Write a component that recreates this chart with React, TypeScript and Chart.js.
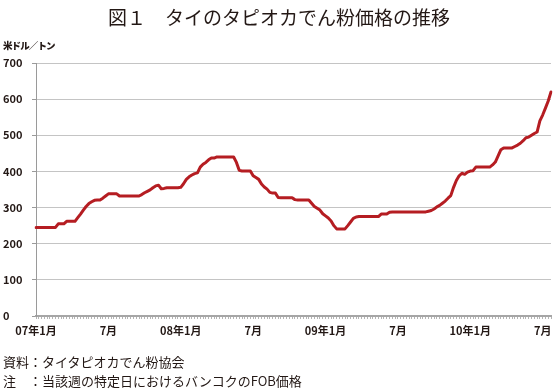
import React, { useEffect, useRef } from "react";
import { Chart, registerables } from "chart.js";

Chart.register(...registerables);

// Half-year tick labels and the week index where each sits
const tickLabels = ["07年1月", "7月", "08年1月", "7月", "09年1月", "7月", "10年1月", "7月"];
const tickWeeks = [0, 26, 52, 78, 104, 130, 156, 182];

// Weekly FOB price of Thai tapioca starch (US$/t), from Jan 2007
const prices = [
  245, 245, 245, 245, 245, 245, 245, 245, 255, 255,
  255, 262, 262, 262, 262, 272, 282, 293, 303, 311,
  316, 320, 321, 321, 326, 332, 338, 338, 338, 338,
  332, 332, 332, 332, 332, 332, 332, 332, 336, 341,
  345, 349, 355, 360, 362, 352, 353, 355, 355, 355,
  355, 355, 356, 366, 378, 385, 390, 394, 396, 412,
  420, 425, 432, 437, 437, 440, 440, 440, 440, 440,
  440, 440, 425, 403, 401, 401, 401, 401, 388, 383,
  378, 365, 357, 351, 342, 340, 340, 328, 327, 327,
  327, 327, 327, 322, 321, 321, 321, 321, 321, 312,
  303, 298, 293, 283, 277, 271, 263, 250, 241, 241,
  241, 241, 250, 260, 270, 274, 275, 275, 275, 275,
  275, 275, 275, 275, 282, 282, 282, 287, 288, 288,
  288, 288, 288, 288, 288, 288, 288, 288, 288, 288,
  288, 290, 292, 296, 302, 306, 312, 318, 326, 333,
  356, 375, 388, 395, 392, 398, 401, 402, 412, 412,
  412, 412, 412, 412, 418, 426, 443, 460, 465, 465,
  465, 465, 469, 473, 478, 485, 493, 495, 500, 505,
  509, 540, 556, 575, 595, 620,
];

const yMin = 0;
const yMax = 700;
const yStep = 100;

const titleText = "図１　タイのタピオカでん粉価格の推移";
const unitText = "米ドル／トン";
const sourceText = "資料：タイタピオカでん粉協会";
const noteText = "注　：当該週の特定日におけるバンコクのFOB価格";

const CJK = '"Noto Sans CJK JP", "Noto Sans", sans-serif';

export default function App() {
  const ref = useRef<HTMLCanvasElement | null>(null);

  useEffect(() => {
    if (!ref.current) return;
    const labels = prices.map((_, i) => {
      const k = tickWeeks.indexOf(i);
      return k >= 0 ? tickLabels[k] : "";
    });
    const chart = new Chart(ref.current, {
      type: "line",
      data: {
        labels,
        datasets: [
          {
            data: prices,
            borderColor: "#b51d22",
            borderWidth: 3,
            pointRadius: 0,
            tension: 0,
            fill: false,
            borderJoinStyle: "round",
            borderCapStyle: "round",
          },
        ],
      },
      options: {
        animation: false,
        responsive: false,
        maintainAspectRatio: false,
        devicePixelRatio: 1,
        layout: { padding: { left: 3, top: 63, right: 7, bottom: 46 } },
        plugins: { legend: { display: false }, tooltip: { enabled: false }, title: { display: false } },
        scales: {
          x: {
            type: "category",
            offset: false,
            grid: {
              drawOnChartArea: false,
              drawTicks: true,
              tickLength: 3,
              tickColor: "#b4b4b4",
              tickWidth: 1,
            },
            border: { display: true, color: "#a6a6a6", width: 2 },
            ticks: {
              autoSkip: false,
              maxRotation: 0,
              minRotation: 0,
              padding: 5,
              color: "#231815",
              font: { family: CJK, size: 11, weight: "bold" },
              callback: (_v: any, i: number) => labels[i],
            },
            afterFit: (s: any) => {
              s.height = 30;
            },
          },
          y: {
            min: yMin,
            max: yMax,
            ticks: {
              stepSize: yStep,
              crossAlign: "far",
              padding: 4,
              color: "#231815",
              font: { family: CJK, size: 11, weight: "bold" },
            },
            grid: { color: "#c4c4c4", lineWidth: 1, tickLength: 4, tickColor: "#9a9a9a" },
            border: { display: true, color: "#9a9a9a", width: 1 },
            afterFit: (s: any) => {
              s.width = 33;
            },
          },
        },
      },
    } as any);
    return () => chart.destroy();
  }, []);

  const base: React.CSSProperties = {
    position: "absolute",
    margin: 0,
    whiteSpace: "nowrap",
    color: "#231815",
    fontFamily: CJK,
  };

  return (
    <div style={{ position: "absolute", left: 0, top: 0, width: 558, height: 392, background: "#fff" }}>
      <canvas ref={ref} width={558} height={392} style={{ position: "absolute", left: 0, top: 0, width: 558, height: 392 }} />
      <div style={{ ...base, left: 108, top: 7, fontSize: 19, lineHeight: "19px" }}>{titleText}</div>
      <div style={{ ...base, left: 3, top: 40, fontSize: 9.5, lineHeight: "10px", fontWeight: 900, letterSpacing: "-0.9px" }}>{unitText}</div>
      <div style={{ ...base, left: 3, top: 355, fontSize: 13, lineHeight: "13px" }}>{sourceText}</div>
      <div style={{ ...base, left: 3, top: 374, fontSize: 13, lineHeight: "13px" }}>{noteText}</div>
    </div>
  );
}
